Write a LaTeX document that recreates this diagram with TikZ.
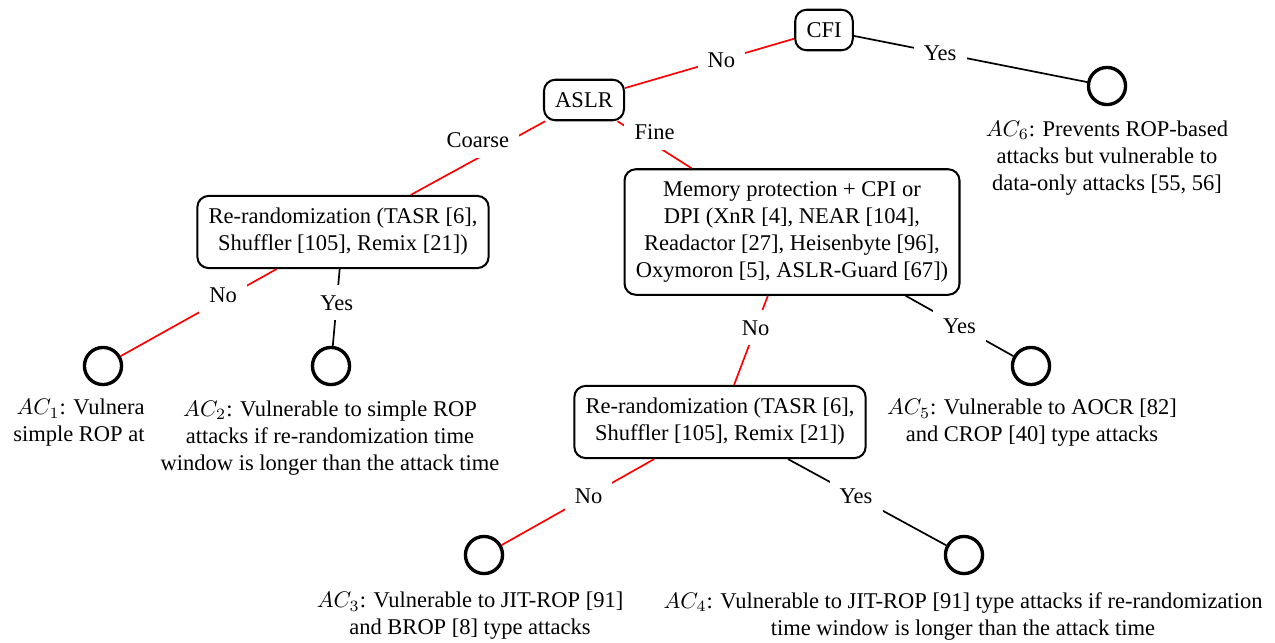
\documentclass[tikz,border=0pt]{standalone}
\usepackage{fontspec}
\setmainfont{Liberation Serif}
\begin{document}
\begin{tikzpicture}[x=0.4444pt,y=-0.4444pt,
  every node/.style={align=center},
  choice/.style={draw,rounded corners=5pt,line width=0.9pt,
    inner xsep=5pt,inner ysep=5.5pt,minimum height=18pt},
  leaf/.style={draw,circle,line width=1.5pt,minimum size=16.5pt,inner sep=0pt},
  outcome/.style={inner sep=0pt},
  lbl/.style={fill=white,text=black,inner sep=4.5pt},
  no/.style={red,line width=0.75pt},
  yes/.style={black,line width=0.75pt}]
\useasboundingbox (0,0) rectangle (1275,642);
\node[choice] (cfi) at (824,30) {CFI};
\node[choice] (aslr) at (584,100) {ASLR};
\node[choice] (rrleft) at (343,232)
  {Re-randomization (TASR [6],\\ Shuffler [105], Remix [21])};
\node[choice] (mem) at (792,232)
  {Memory protection + CPI or\\ DPI (XnR [4], NEAR [104],\\
   Readactor [27], Heisenbyte [96],\\ Oxymoron [5], ASLR-Guard [67])};
\node[choice] (rrlow) at (720,422)
  {Re-randomization (TASR [6],\\ Shuffler [105], Remix [21])};
\node[leaf] (ac1) at (103,366) {};
\node[leaf] (ac2) at (331,366) {};
\node[leaf] (ac3) at (484,555) {};
\node[leaf] (ac4) at (964,555) {};
\node[leaf] (ac5) at (1031,366) {};
\node[leaf] (ac6) at (1107,86) {};
\node[outcome,anchor=east,align=right] (ac1txt) at (145,423)
  {$AC_1$: Vulnera\\ simple ROP at};
\node[outcome] (ac2txt) at (330,438)
  {$AC_2$: Vulnerable to simple ROP\\ attacks if re-randomization time\\
   window is longer than the attack time};
\node[outcome] (ac3txt) at (470,616)
  {$AC_3$: Vulnerable to JIT-ROP [91]\\ and BROP [8] type attacks};
\node[outcome] (ac4txt) at (963,616)
  {$AC_4$: Vulnerable to JIT-ROP [91] type attacks if re-randomization\\
   time window is longer than the attack time};
\node[outcome] (ac5txt) at (1032,423)
  {$AC_5$: Vulnerable to AOCR [82]\\ and CROP [40] type attacks};
\node[outcome] (ac6txt) at (1107,158)
  {$AC_6$: Prevents ROP-based\\ attacks but vulnerable to\\ data-only attacks [55, 56]};
\draw[no] (cfi) -- node[lbl,pos=.43] (cfino) {No} (aslr);
\draw[yes] (cfi) -- node[lbl,pos=.37] (cfiyes) {Yes} (ac6);
\draw[no] (aslr) -- node[lbl,pos=.5,yshift=8pt] (aslrcoarse) {Coarse} (rrleft);
\draw[no] (aslr) -- node[lbl,pos=.5,yshift=5.5pt] (aslrfine) {Fine} (mem);
\draw[no] (rrleft) -- node[lbl,pos=.3,xshift=-3pt] (rrleftno) {No} (ac1);
\draw[yes] (rrleft) -- node[lbl,pos=.44] (rrleftyes) {Yes} (ac2);
\draw[no] (mem) -- node[lbl,pos=.36] (memno) {No} (rrlow);
\draw[yes] (mem) -- node[lbl,pos=.5] (memyes) {Yes} (ac5);
\draw[no] (rrlow) -- node[lbl,pos=.43] (rrlowno) {No} (ac3);
\draw[yes] (rrlow) -- node[lbl,pos=.43] (rrlowyes) {Yes} (ac4);
\end{tikzpicture}
\end{document}
